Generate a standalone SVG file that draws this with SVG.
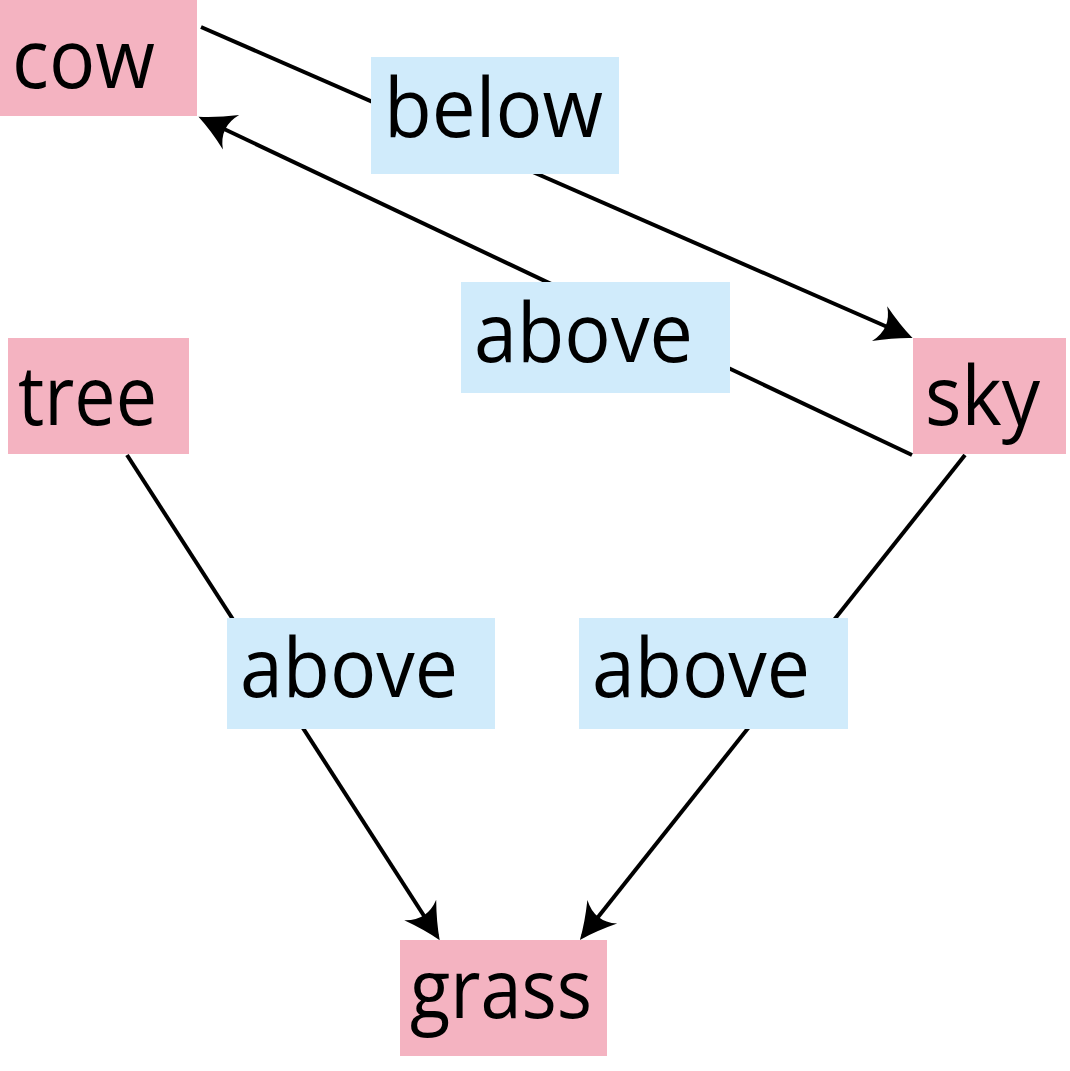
<svg xmlns="http://www.w3.org/2000/svg" width="1070" height="1071" viewBox="0 0 1070 1071">
<style>
.node rect{fill:#F4B3C1}
.lbl rect{fill:#D0EBFB}
text{font-family:"Open Sans","Noto Sans",sans-serif;font-size:82px;fill:#000}
.edge{stroke:#000;stroke-width:4;fill:none}
</style>
<defs>
<marker id="arr" markerUnits="userSpaceOnUse" markerWidth="60" markerHeight="50" viewBox="-50 -25 60 50" refX="0" refY="0" orient="auto">
<path d="M5,0 Q-12,-7 -31,-19 Q-18,0 -31,19 Q-12,7 5,0 Z" fill="#000"/>
</marker>
</defs>
<rect width="1070" height="1071" fill="#fff"/>
<g id="connectors">
<line class="edge" x1="201" y1="27" x2="908" y2="336" marker-end="url(#arr)"/>
<line class="edge" x1="912" y1="455" x2="203" y2="119" marker-end="url(#arr)"/>
<line class="edge" x1="127" y1="455" x2="437" y2="936" marker-end="url(#arr)"/>
<line class="edge" x1="965" y1="455" x2="583" y2="936" marker-end="url(#arr)"/>
</g>
<g id="label-below" class="lbl"><rect x="371" y="57" width="248" height="117"/><text x="384" y="137" textLength="219" lengthAdjust="spacingAndGlyphs">below</text></g>
<g id="label-above-1" class="lbl"><rect x="461" y="282" width="269" height="111"/><text x="474" y="362" textLength="219" lengthAdjust="spacingAndGlyphs">above</text></g>
<g id="label-above-2" class="lbl"><rect x="227" y="618" width="268" height="111"/><text x="240" y="697" textLength="218" lengthAdjust="spacingAndGlyphs">above</text></g>
<g id="label-above-3" class="lbl"><rect x="579" y="618" width="269" height="111"/><text x="592" y="697" textLength="218" lengthAdjust="spacingAndGlyphs">above</text></g>
<g id="cow" class="node"><rect x="0" y="0" width="197" height="116"/><text x="12" y="88" textLength="143" lengthAdjust="spacingAndGlyphs">cow</text></g>
<g id="tree" class="node"><rect x="8" y="338" width="181" height="116"/><text x="18" y="425" textLength="139" lengthAdjust="spacingAndGlyphs">tree</text></g>
<g id="sky" class="node"><rect x="913" y="338" width="153" height="116"/><text x="925" y="425" textLength="115" lengthAdjust="spacingAndGlyphs">sky</text></g>
<g id="grass" class="node"><rect x="400" y="940" width="207" height="116"/><text x="410" y="1018" textLength="182" lengthAdjust="spacingAndGlyphs">grass</text></g>
</svg>
